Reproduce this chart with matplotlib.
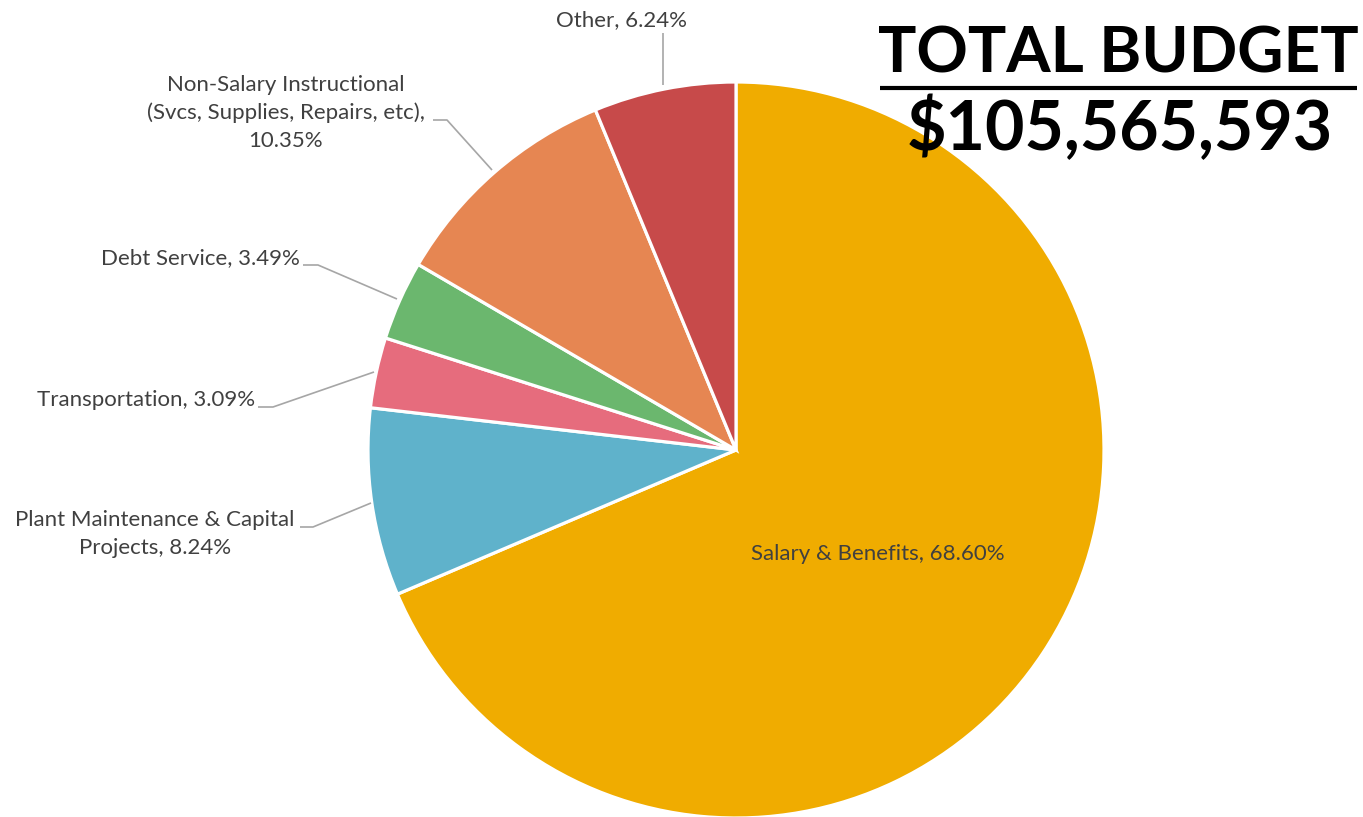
import matplotlib
matplotlib.use("Agg")
import matplotlib.pyplot as plt

categories = ["Salary & Benefits", "Plant Maintenance & Capital\nProjects", "Transportation",
              "Debt Service", "Non-Salary Instructional\n(Svcs, Supplies, Repairs, etc),\n", "Other"]
values = [68.60, 8.24, 3.09, 3.49, 10.35, 6.24]
colors = ["#F0AC00", "#5FB2CB", "#E66C7D", "#6BB76E", "#E68652", "#C74A4A"]
total_title = "TOTAL BUDGET"
total_value = "$105,565,593"

W, H = 1363, 817
fig = plt.figure(figsize=(W / 100, H / 100), dpi=100)
ax = fig.add_axes([0, 0, 1, 1])

def Y(py):
    return H - py

ax.pie(values, colors=colors, startangle=90, counterclock=False,
       center=(736, Y(450)), radius=368,
       wedgeprops=dict(edgecolor="white", linewidth=2.3))
ax.set_xlim(0, W)
ax.set_ylim(0, H)
ax.set_aspect("auto")
ax.axis("off")

font = ["Lato", "DejaVu Sans"]
tc = "#404040"
lc = "#A6A6A6"
fs = 16

def label(text, x, y, ha="center"):
    ax.text(x, Y(y), text, ha=ha, va="center", fontsize=fs, color=tc, family=font,
            linespacing=1.5)

def leader(pts):
    xs = [p[0] for p in pts]
    ys = [Y(p[1]) for p in pts]
    ax.plot(xs, ys, color=lc, lw=1.2, solid_capstyle="butt")

# Salary
label(f"{categories[0]}, {values[0]:.2f}%", 878, 554)
# Plant
label(f"Plant Maintenance & Capital\nProjects, {values[1]:.2f}%", 155, 534)
leader([(300, 527), (313, 527), (371, 503)])
# Transportation
label(f"{categories[2]}, {values[2]:.2f}%", 146, 400)
leader([(258, 407), (273, 407), (374, 372)])
# Debt
label(f"{categories[3]}, {values[3]:.2f}%", 200, 258)
leader([(303, 265), (318, 265), (397, 299)])
# Non-salary
label(f"Non-Salary Instructional\n(Svcs, Supplies, Repairs, etc),\n{values[4]:.2f}%", 286, 113)
leader([(433, 120), (447, 120), (492, 170)])
# Other
label(f"{categories[5]}, {values[5]:.2f}%", 622, 20)
leader([(663, 33), (663, 85)])

# Title
ax.text(1118, Y(54), total_title, ha="center", va="center", fontsize=46, fontweight="bold",
        color="black", family=font)
ax.plot([880, 1357], [Y(88), Y(88)], color="black", lw=3, solid_capstyle="butt")
ax.text(1120, Y(129), total_value, ha="center", va="center", fontsize=49, fontweight="bold",
        color="black", family=font)

fig.savefig("out.png", dpi=100)
